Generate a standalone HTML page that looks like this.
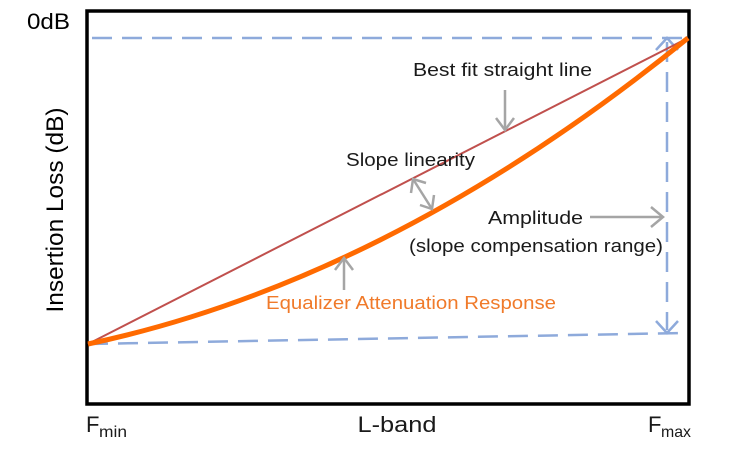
<!DOCTYPE html>
<html><head><meta charset="utf-8"><style>
html,body{margin:0;padding:0;background:#fff;}
svg{display:block;}
text{font-family:"Liberation Sans","DejaVu Sans",sans-serif;}
</style></head><body>
<svg width="741" height="473" viewBox="0 0 741 473" xmlns="http://www.w3.org/2000/svg">
<rect x="0" y="0" width="741" height="473" fill="#fff"/>
<g stroke="#8eaadb" stroke-width="2.5" fill="none" stroke-dasharray="20,10">
<line x1="92" y1="38" x2="688" y2="38"/>
<line x1="88" y1="344" x2="684" y2="333"/>
<line x1="667" y1="42" x2="667" y2="330"/>
</g>
<g stroke="#8eaadb" stroke-width="2.5" fill="none">
<polyline points="656,50 667,38 678,50"/>
<polyline points="656,321 667,333 678,321"/>
</g>
<rect x="87" y="11" width="602" height="393" fill="none" stroke="#000" stroke-width="3.5"/>
<line x1="88" y1="344" x2="688" y2="38" stroke="#c0504d" stroke-width="2"/>
<path d="M88,344 Q390,280 688,38" fill="none" stroke="#ff6a00" stroke-width="5"/>
<g stroke="#a5a5a5" stroke-width="2.5" fill="none">
<line x1="505" y1="90" x2="505" y2="130"/>
<polyline points="496,118 505,130 514,118"/>
<line x1="344" y1="290" x2="344" y2="258"/>
<polyline points="335,270 344,258 353,270"/>
<line x1="413" y1="179" x2="432" y2="209"/>
<polyline points="411,193 413,179 426,183"/>
<polyline points="420,205 432,209 434,195"/>
<line x1="590" y1="217" x2="663" y2="217"/>
<polyline points="651,207 663,217 651,227"/>
</g>
<text x="27" y="29" font-size="22" fill="#000" textLength="43" lengthAdjust="spacingAndGlyphs">0dB</text>
<text transform="translate(63,210) rotate(-90)" text-anchor="middle" font-size="24" fill="#000" textLength="205" lengthAdjust="spacingAndGlyphs">Insertion Loss (dB)</text>
<text x="413" y="76" font-size="18" fill="#1a1a1a" textLength="179" lengthAdjust="spacingAndGlyphs">Best fit straight line</text>
<text x="346" y="166" font-size="18" fill="#1a1a1a" textLength="129" lengthAdjust="spacingAndGlyphs">Slope linearity</text>
<text x="488" y="224" font-size="18" fill="#1a1a1a" textLength="95" lengthAdjust="spacingAndGlyphs">Amplitude</text>
<text x="409" y="252" font-size="18" fill="#1a1a1a" textLength="254" lengthAdjust="spacingAndGlyphs">(slope compensation range)</text>
<text x="266" y="309" font-size="18" fill="#f07a2a" textLength="290" lengthAdjust="spacingAndGlyphs">Equalizer Attenuation Response</text>
<text x="86" y="432" font-size="22" fill="#1a1a1a">F</text>
<text x="99" y="437" font-size="16" fill="#1a1a1a" textLength="28" lengthAdjust="spacingAndGlyphs">min</text>
<text x="397" y="432" text-anchor="middle" font-size="22" fill="#1a1a1a" textLength="79" lengthAdjust="spacingAndGlyphs">L-band</text>
<text x="648" y="432" font-size="22" fill="#1a1a1a">F</text>
<text x="661" y="437" font-size="16" fill="#1a1a1a" textLength="30" lengthAdjust="spacingAndGlyphs">max</text>
</svg>
</body></html>
